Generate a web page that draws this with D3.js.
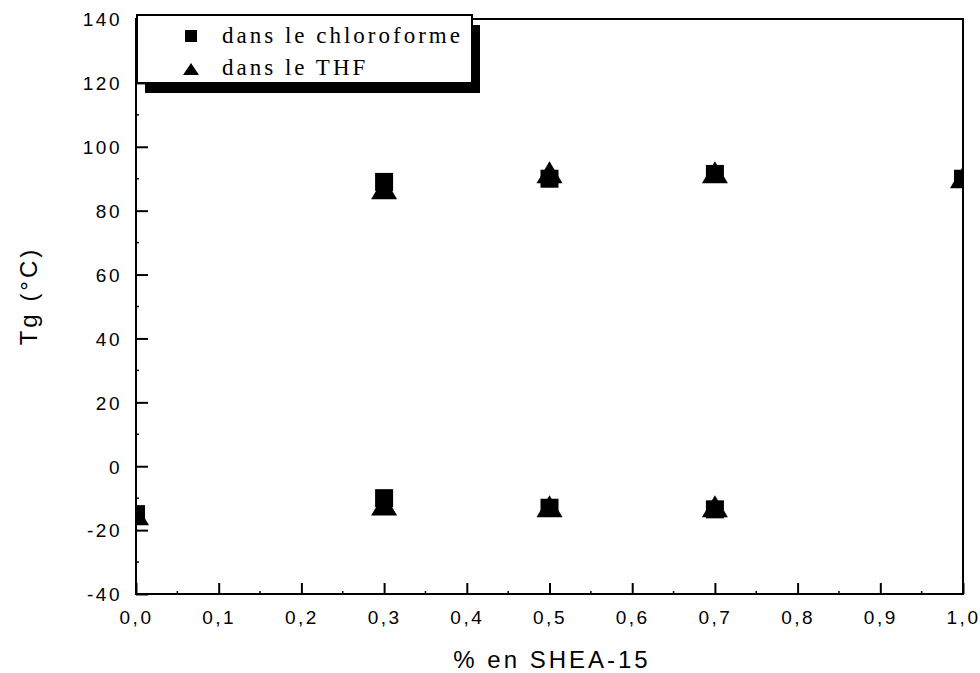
<!DOCTYPE html>
<html>
<head>
<meta charset="utf-8">
<script src="https://cdn.jsdelivr.net/npm/d3@7"></script>
<style>
  html, body { margin: 0; padding: 0; background: #fff; }
  svg { display: block; }
  .tick-label { font-family: "Liberation Sans", Arial, sans-serif; font-size: 19px; letter-spacing: 2.5px; fill: #000; }
  .axis-title { font-family: "Liberation Sans", Arial, sans-serif; font-size: 24px; letter-spacing: 3px; fill: #000; }
  .legend-text { font-family: "Liberation Serif", "Times New Roman", serif; font-size: 23px; letter-spacing: 3px; fill: #000; }
</style>
</head>
<body>
<script>
// Tg versus SHEA-15 content, two casting solvents
const fractions = [0, 0.3, 0.5, 0.7, 1.0];
const chloroUpper = [null, 89, 90, 91.5, 90];
const chloroLower = [-15, -10, -13, -13.5, null];
const thfUpper = [null, 87, 92, 92, 90.5];
const thfLower = [-15, -12, -12.5, -12.5, null];

const xTicks = [0, 0.1, 0.2, 0.3, 0.4, 0.5, 0.6, 0.7, 0.8, 0.9, 1.0];
const yTicks = [-40, -20, 0, 20, 40, 60, 80, 100, 120, 140];
const legendLabels = ["dans le chloroforme", "dans le THF"];
const xTitle = "% en SHEA-15";
const yTitle = "Tg (°C)";

const W = 980, H = 673;
const m = { left: 136, right: 963, top: 19, bottom: 594 };

const x = d3.scaleLinear().domain([0, 1]).range([m.left, m.right]);
const y = d3.scaleLinear().domain([-40, 140]).range([m.bottom, m.top]);

const svg = d3.select("body").append("svg").attr("width", W).attr("height", H);

// Decimal comma on x, plain hyphen for negatives on y
const fmtX = v => v.toFixed(1).replace(".", ",");
const fmtY = v => String(v);

// Bottom axis: major ticks inward, minor ticks halfway
const xAxis = d3.axisBottom(x).tickValues(xTicks).tickSize(-11).tickFormat(fmtX);
const gx = svg.append("g").attr("transform", `translate(0,${m.bottom})`).call(xAxis)
  .attr("font-size", null).attr("font-family", null);
gx.select(".domain").remove();
gx.selectAll(".tick line").attr("stroke", "#000").attr("stroke-width", 2);
gx.selectAll(".tick text").attr("class", "tick-label").attr("y", 30).attr("dy", 0);
const xMinor = d3.range(0.05, 1, 0.1);
svg.append("g").selectAll("line").data(xMinor).join("line")
  .attr("x1", d => x(d)).attr("x2", d => x(d))
  .attr("y1", m.bottom).attr("y2", m.bottom - 3)
  .attr("stroke", "#000").attr("stroke-width", 1.5);

// Left axis
const yAxis = d3.axisLeft(y).tickValues(yTicks).tickSize(-12).tickFormat(fmtY);
const gy = svg.append("g").attr("transform", `translate(${m.left},0)`).call(yAxis)
  .attr("font-size", null).attr("font-family", null);
gy.select(".domain").remove();
gy.selectAll(".tick line").attr("stroke", "#000").attr("stroke-width", 2);
gy.selectAll(".tick text").attr("class", "tick-label").attr("x", -14).attr("dy", "0.36em");
const yMinor = d3.range(-30, 140, 20);
svg.append("g").selectAll("line").data(yMinor).join("line")
  .attr("x1", m.left).attr("x2", m.left + 3)
  .attr("y1", d => y(d)).attr("y2", d => y(d))
  .attr("stroke", "#000").attr("stroke-width", 1.5);

// Frame
svg.append("rect")
  .attr("x", m.left).attr("y", m.top)
  .attr("width", m.right - m.left).attr("height", m.bottom - m.top)
  .attr("fill", "none").attr("stroke", "#000").attr("stroke-width", 2);

// Markers, clipped to the plotting area
svg.append("clipPath").attr("id", "plot-clip")
  .append("rect").attr("x", m.left).attr("y", m.top)
  .attr("width", m.right - m.left).attr("height", m.bottom - m.top);
const plot = svg.append("g").attr("clip-path", "url(#plot-clip)");

function triPath(cx, cy, w, h) {
  const p = d3.path();
  p.moveTo(cx, cy - h / 2);
  p.lineTo(cx + w / 2, cy + h / 2);
  p.lineTo(cx - w / 2, cy + h / 2);
  p.closePath();
  return p.toString();
}

function pairs(vals) {
  return fractions.map((f, i) => ({ f, v: vals[i] })).filter(d => d.v !== null);
}

const thfPts = pairs(thfUpper).concat(pairs(thfLower));
const chloroPts = pairs(chloroUpper).concat(pairs(chloroLower));

plot.append("g").selectAll("path").data(thfPts).join("path")
  .attr("d", d => triPath(x(d.f), y(d.v), 26, 22))
  .attr("fill", "#000");

const sq = 18;
plot.append("g").selectAll("rect").data(chloroPts).join("rect")
  .attr("x", d => x(d.f) - sq / 2).attr("y", d => y(d.v) - sq / 2)
  .attr("width", sq).attr("height", sq)
  .attr("fill", "#000");

// Axis titles
svg.append("text").attr("class", "axis-title")
  .attr("x", 552).attr("y", 668).attr("text-anchor", "middle")
  .text(xTitle);
svg.append("text").attr("class", "axis-title")
  .attr("transform", `translate(37,296) rotate(-90)`).attr("text-anchor", "middle")
  .text(yTitle);

// Legend with drop shadow
const lg = { x: 137, y: 15, w: 335, h: 68 };
svg.append("rect").attr("x", lg.x + 8).attr("y", lg.y + 10)
  .attr("width", lg.w).attr("height", lg.h).attr("fill", "#000");
svg.append("rect").attr("x", lg.x).attr("y", lg.y)
  .attr("width", lg.w).attr("height", lg.h)
  .attr("fill", "#fff").attr("stroke", "#000").attr("stroke-width", 2);

svg.append("rect").attr("x", 185).attr("y", 30).attr("width", 12).attr("height", 12).attr("fill", "#000");
svg.append("path").attr("d", triPath(191, 69, 16, 12)).attr("fill", "#000");

svg.append("g").selectAll("text").data(legendLabels).join("text")
  .attr("class", "legend-text")
  .attr("x", 222).attr("y", (d, i) => 43 + i * 32)
  .text(d => d);
</script>
</body>
</html>
